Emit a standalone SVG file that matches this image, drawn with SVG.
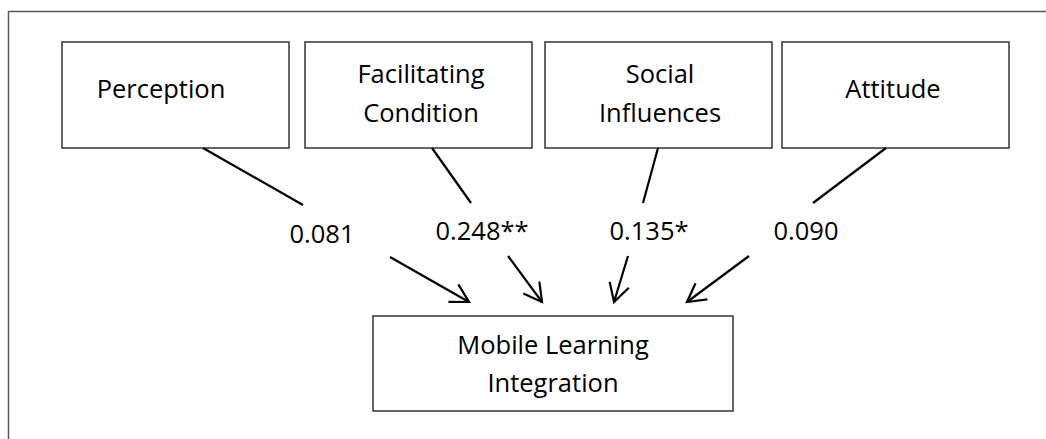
<svg xmlns="http://www.w3.org/2000/svg" width="1046" height="439" viewBox="0 0 1046 439">
  <style>
    .frame { fill: none; stroke: #595959; stroke-width: 1.5; }
    .box { fill: #ffffff; stroke: #333333; stroke-width: 1.5; }
    .label { font-family: "Open Sans", "Liberation Sans", sans-serif; font-size: 25.5px; fill: #000000; text-anchor: middle; }
    .link { fill: none; stroke: #000000; stroke-width: 2.2; }
  </style>
  <defs>
    <marker id="open-arrow" markerUnits="userSpaceOnUse" markerWidth="24" markerHeight="24" viewBox="-20 -12 22 24" refX="0" refY="0" orient="auto" overflow="visible">
      <path d="M -18 -10 L 0 0 L -18 10" fill="none" stroke="#000000" stroke-width="2.2"/>
    </marker>
  </defs>

  <rect width="1046" height="439" fill="#ffffff"/>
  <!-- outer frame, cropped on the right and bottom -->
  <path class="frame" d="M 8.5 439 L 8.5 11.5 L 1046 11.5"/>

  <g id="perception">
    <rect class="box" x="62" y="42" width="227" height="106"/>
    <text class="label" x="161" y="98">Perception</text>
  </g>
  <g id="facilitating-condition">
    <rect class="box" x="305" y="42" width="227" height="106"/>
    <text class="label" x="421" y="83">Facilitating</text>
    <text class="label" x="421" y="122">Condition</text>
  </g>
  <g id="social-influences">
    <rect class="box" x="545" y="42" width="227" height="106"/>
    <text class="label" x="660" y="83">Social</text>
    <text class="label" x="660" y="122">Influences</text>
  </g>
  <g id="attitude">
    <rect class="box" x="782" y="42" width="227" height="106"/>
    <text class="label" x="893" y="98">Attitude</text>
  </g>
  <g id="mobile-learning-integration">
    <rect class="box" x="373" y="316" width="360" height="95"/>
    <text class="label" x="553" y="354">Mobile Learning</text>
    <text class="label" x="553" y="392">Integration</text>
  </g>

  <g id="connectors">
    <line class="link" x1="203" y1="148" x2="303" y2="205"/>
    <line class="link" x1="390" y1="257" x2="469" y2="302" marker-end="url(#open-arrow)"/>
    <text class="label" x="322" y="243">0.081</text>

    <line class="link" x1="432" y1="148" x2="471" y2="203"/>
    <line class="link" x1="508" y1="256" x2="542" y2="302" marker-end="url(#open-arrow)"/>
    <text class="label" x="482" y="240">0.248**</text>

    <line class="link" x1="658" y1="148" x2="643" y2="203"/>
    <line class="link" x1="628" y1="256" x2="614" y2="302" marker-end="url(#open-arrow)"/>
    <text class="label" x="649" y="240">0.135*</text>

    <line class="link" x1="886" y1="148" x2="813" y2="203"/>
    <line class="link" x1="749" y1="256" x2="687" y2="302" marker-end="url(#open-arrow)"/>
    <text class="label" x="806" y="240">0.090</text>
  </g>
</svg>
